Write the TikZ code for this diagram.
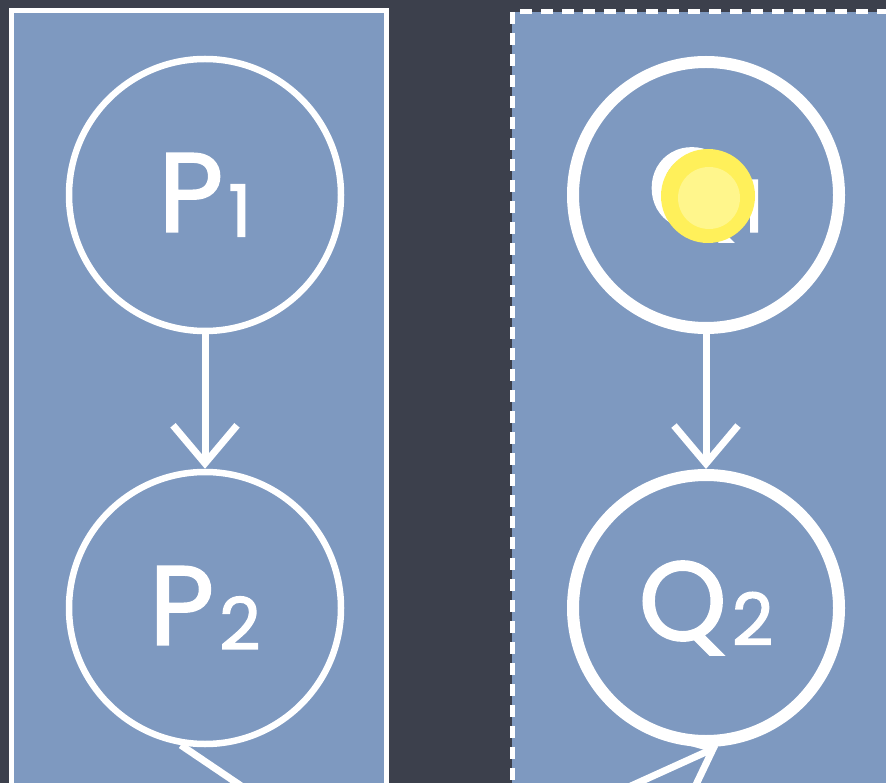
\documentclass[tikz,border=0pt]{standalone}
\usepackage{fontspec}
\setmainfont{Poppins}
\newfontfamily\chalkfont[FakeBold=1.8]{Poppins}
\usetikzlibrary{arrows.meta}
\definecolor{slate}{RGB}{60,64,76}
\definecolor{panelblue}{RGB}{126,153,192}
\definecolor{dotouter}{RGB}{255,240,90}
\definecolor{dotinner}{RGB}{255,246,140}
\tikzset{
  panel/.style={fill=panelblue, draw=white, line width=5pt},
  dashpanel/.style={panel, dash pattern=on 12pt off 9pt},
  thinball/.style={circle, draw=white, line width=6.5pt, minimum size=272pt, inner sep=0pt, text=white},
  thickball/.style={circle, draw=white, line width=12pt, minimum size=266pt, inner sep=0pt, text=white},
  link/.style={draw=white, line width=7pt, -{Straight Barb[length=38pt,width=64pt,line width=7pt]}},
  stub/.style={draw=white, line width=7pt},
  bigtext/.style={font=\chalkfont\fontsize{112}{112}\selectfont},
}
\newcommand{\lbl}[2]{#1\hspace{5pt}\raisebox{-5pt}{\fontsize{72}{72}\selectfont #2}}
\begin{document}
\begin{tikzpicture}[x=1pt,y=-1pt]
\useasboundingbox (0,0) rectangle (886,783);
\clip (0,0) rectangle (886,783);
\fill[slate] (0,0) rectangle (886,783);
\path[panel] (11,11) rectangle (386,810);
\path[dashpanel] (512,12) rectangle (900,810);
\node[thinball, bigtext] (p1) at (205,195) {\lbl{P}{1}};
\node[thinball, bigtext] (p2) at (205,608) {\lbl{P}{2}};
\node[thickball, bigtext] (q1) at (706,195) {\lbl{Q}{1}};
\node[thickball, bigtext] (q2) at (706,608) {\lbl{Q}{2}};
\draw[link] (p1.south) -- (p2.north);
\draw[link] (q1.south) -- (q2.north);
\coordinate (pout) at (262,800);
\coordinate (qin) at (600,800);
\draw[stub] (p2.-100) -- (pout);
\draw[link] (qin) -- (q2.-85);
\node[circle, fill=dotouter, minimum size=94pt, inner sep=0pt] (dot) at (708,196) {};
\node[circle, fill=dotinner, minimum size=62pt, inner sep=0pt] (dotc) at (709,198) {};
\end{tikzpicture}
\end{document}
